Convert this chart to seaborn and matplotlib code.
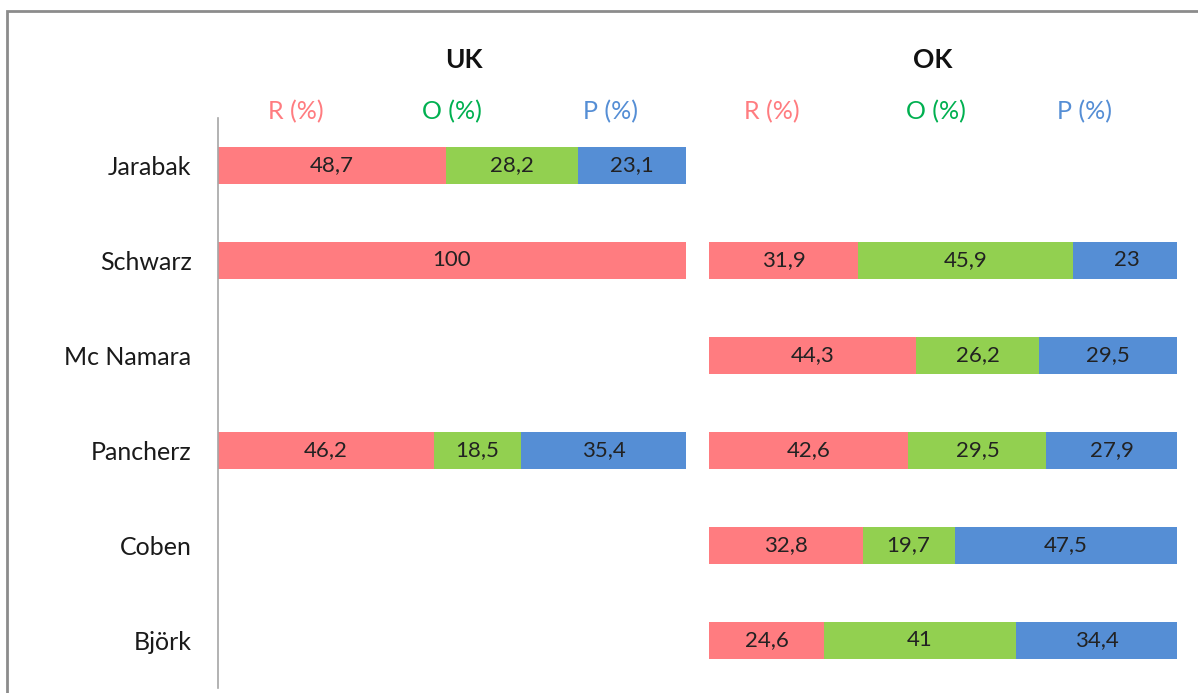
import numpy as np
import pandas as pd
import matplotlib
matplotlib.use("Agg")
import matplotlib.pyplot as plt
from matplotlib.patches import Rectangle
import seaborn as sns

# Cephalometric analyses and their R / O / P shares (%), per group
names = ["Jarabak", "Schwarz", "Mc Namara", "Pancherz", "Coben", "Björk"]
uk_r = [48.7, 100, np.nan, 46.2, np.nan, np.nan]
uk_o = [28.2, np.nan, np.nan, 18.5, np.nan, np.nan]
uk_p = [23.1, np.nan, np.nan, 35.4, np.nan, np.nan]
ok_r = [np.nan, 31.9, 44.3, 42.6, 32.8, 24.6]
ok_o = [np.nan, 45.9, 26.2, 29.5, 19.7, 41]
ok_p = [np.nan, 23, 29.5, 27.9, 47.5, 34.4]
groups = ["UK", "OK"]
parts = ["R (%)", "O (%)", "P (%)"]

bar_colors = ["#FF7C80", "#92D050", "#558ED5"]
head_colors = ["#FF7C80", "#00B050", "#558ED5"]

sns.set_theme(style="white")
plt.rcParams["font.family"] = ["Lato", "DejaVu Sans"]

W, H = 1198, 693
fig = plt.figure(figsize=(W / 100, H / 100), dpi=100)

def fx(px):
    return px / W

def fy(px):
    return 1 - px / H

top_px, bot_px = 118, 688
ax_uk = fig.add_axes([fx(218), fy(bot_px), fx(468), (bot_px - top_px) / H])
ax_ok = fig.add_axes([fx(709), fy(bot_px), fx(468), (bot_px - top_px) / H])

def fmt(v):
    s = f"{v:.1f}".rstrip("0").rstrip(".")
    return s.replace(".", ",")

def draw_panel(ax, r, o, p, title, head_x):
    df = pd.DataFrame({"name": names, "r": r, "o": o, "p": p})
    vals = df[["r", "o", "p"]].fillna(0)
    present = df[["r", "o", "p"]].notna().any(axis=1)
    cum = vals.cumsum(axis=1).where(present, np.nan)
    # overlapping cumulative bars, widest first, give the stacked look
    for col, color in zip(["p", "o", "r"], bar_colors[::-1]):
        sns.barplot(x=cum[col], y=df["name"], order=names, orient="h",
                    color=color, width=0.38, linewidth=0, saturation=1,
                    errorbar=None, ax=ax)
    for i, row in df.iterrows():
        left = 0.0
        for col in ["r", "o", "p"]:
            v = row[col]
            if pd.notna(v):
                ax.text(left + v / 2, i, fmt(v), ha="center", va="center",
                        fontsize=16, color="#222222")
                left += v
    ax.set_xlim(0, 100)
    ax.set_ylim(5.5, -0.5)
    ax.set_xlabel("")
    ax.set_ylabel("")
    ax.set_xticks([])
    trans = ax.get_xaxis_transform()
    ax.text(title[1], 1.102, title[0], transform=trans, ha="center",
            va="center", fontsize=19, fontweight="bold", color="#111111")
    for label, x, c in zip(parts, head_x, head_colors):
        ax.text(x, 1.012, label, transform=trans, ha="center", va="center",
                fontsize=18, color=c)
    for s in ["top", "right", "bottom", "left"]:
        ax.spines[s].set_visible(False)

draw_panel(ax_uk, uk_r, uk_o, uk_p, (groups[0], 52.6), [16.7, 50, 83.8])
draw_panel(ax_ok, ok_r, ok_o, ok_p, (groups[1], 47.7), [13.5, 48.5, 80.2])

ax_uk.spines["left"].set_visible(True)
ax_uk.spines["left"].set_color("#A6A6A6")
ax_uk.spines["left"].set_linewidth(1.2)
ax_uk.tick_params(axis="y", length=0, pad=19, labelsize=18, labelcolor="#1a1a1a")
ax_ok.set_yticks([])

# outer chart frame
fig.add_artist(Rectangle((fx(7), -0.2), 2, fy(11) + 0.2, transform=fig.transFigure,
                         fill=False, edgecolor="#8C8C8C", linewidth=2, clip_on=False))

fig.savefig("out.png", dpi=100)
